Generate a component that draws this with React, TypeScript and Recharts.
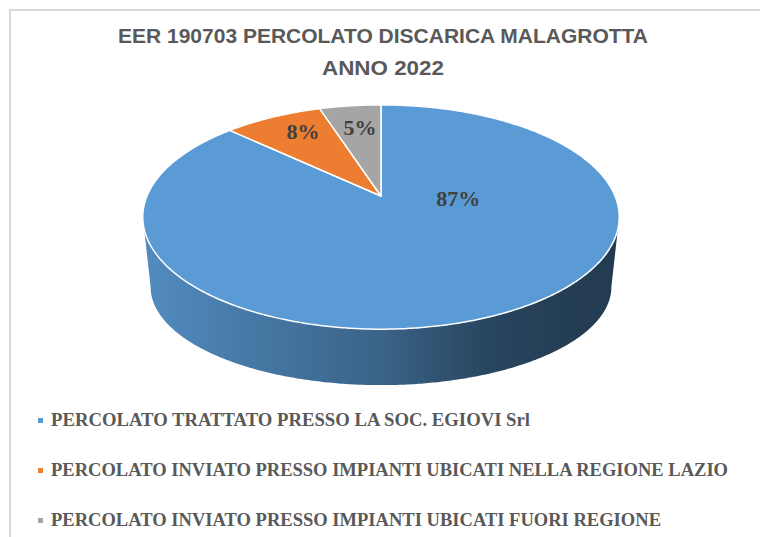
import { PieChart, Pie, Cell, Legend } from "recharts"

// dati
const SLICE_NAMES = [
  "PERCOLATO TRATTATO PRESSO LA SOC. EGIOVI Srl",
  "PERCOLATO INVIATO PRESSO IMPIANTI UBICATI NELLA REGIONE LAZIO",
  "PERCOLATO INVIATO PRESSO IMPIANTI UBICATI FUORI REGIONE",
]
const SLICE_VALUES = [87, 8, 5]
const SLICE_COLORS = ["#5b9bd5", "#ed7d31", "#a5a5a5"]

const TITLE_LINES = ["EER 190703 PERCOLATO DISCARICA MALAGROTTA", "ANNO 2022"]

const chartData = SLICE_NAMES.map((name, i) => ({ name, value: SLICE_VALUES[i] }))

// 3D look: perspective ellipse
const TILT = 0.4624
const PERSP = 0.1875
const SIDE_SX = 0.967
const SIDE_SY = 0.875
const SIDE_DROP = 72.6

// label placement tweaks (Excel "best fit" is not on the mid angle)
const LABEL_TUNE = [
  { angle: -4, kx: 0.33, ky: 0.33 },
  { angle: null, kx: 0.69, ky: 0.8 },
  { angle: null, kx: 0.64, ky: 0.73 },
]
const LEGEND_WIDTHS = [479, 677, 610]

const RAD = Math.PI / 180

function proj(cx: number, cy: number, r: number, deg: number, k = 1) {
  const a = deg * RAD
  const w = 1 + PERSP * k * Math.sin(a)
  return {
    x: cx + (r * k * Math.cos(a)) / w,
    y: cy - (r * TILT * k * Math.sin(a)) / w,
  }
}

function projBottom(cx: number, cy: number, r: number, deg: number) {
  const p = proj(cx, cy, r, deg)
  return { x: cx + SIDE_SX * (p.x - cx), y: cy + SIDE_DROP + SIDE_SY * (p.y - cy) }
}

function arcPoints(from: number, to: number, fn: (d: number) => { x: number; y: number }) {
  const n = Math.max(2, Math.ceil(Math.abs(to - from) / 0.5))
  const pts: string[] = []
  for (let i = 0; i <= n; i++) {
    const p = fn(from + ((to - from) * i) / n)
    pts.push(`${p.x.toFixed(2)},${p.y.toFixed(2)}`)
  }
  return pts
}

function shade(hex: string, f: number) {
  const n = parseInt(hex.slice(1), 16)
  const r = Math.round(((n >> 16) & 255) * f)
  const g = Math.round(((n >> 8) & 255) * f)
  const b = Math.round((n & 255) * f)
  return `rgb(${r},${g},${b})`
}

const TopSlice = (props: any) => {
  const { cx, cy, outerRadius, startAngle, endAngle, fill } = props
  const pts = arcPoints(startAngle, endAngle, (d) => proj(cx, cy, outerRadius, d))
  const d = `M${cx},${cy} L${pts.join(" L")} Z`
  return <path d={d} fill={fill} stroke="#ffffff" strokeWidth={1.5} strokeLinejoin="round" />
}

const SideSlice = (props: any) => {
  const { cx, cy, outerRadius, startAngle, endAngle, fill } = props
  const lo0 = Math.min(startAngle, endAngle)
  const hi0 = Math.max(startAngle, endAngle)
  const edge = Math.asin(PERSP) / RAD
  const frontLo = -180 + edge
  const frontHi = -edge
  const gid = `side-${String(fill).replace("#", "")}`
  const paths: string[] = []
  for (const shift of [-360, 0, 360]) {
    const lo = Math.max(lo0 + shift, frontLo)
    const hi = Math.min(hi0 + shift, frontHi)
    if (lo >= hi) continue
    const top = arcPoints(hi, lo, (d) => proj(cx, cy, outerRadius, d))
    const bottom = arcPoints(lo, hi, (d) => projBottom(cx, cy, outerRadius, d))
    paths.push(`M${top.join(" L")} L${bottom.join(" L")} Z`)
  }
  if (!paths.length) return <g />
  return (
    <g>
      <defs>
        <linearGradient id={gid} gradientUnits="userSpaceOnUse" x1={cx - outerRadius * 1.02} y1={0} x2={cx + outerRadius * 1.02} y2={0}>
          <stop offset="0%" stopColor={shade(fill, 0.9)} />
          <stop offset="22%" stopColor={shade(fill, 0.78)} />
          <stop offset="50%" stopColor={shade(fill, 0.64)} />
          <stop offset="72%" stopColor={shade(fill, 0.45)} />
          <stop offset="87%" stopColor={shade(fill, 0.4)} />
          <stop offset="100%" stopColor={shade(fill, 0.38)} />
        </linearGradient>
      </defs>
      {paths.map((d, i) => (
        <path key={i} d={d} fill={`url(#${gid})`} />
      ))}
    </g>
  )
}

const renderLabel = (props: any) => {
  const { cx, cy, outerRadius, midAngle, percent, index } = props
  const tune = LABEL_TUNE[index] ?? { angle: null, kx: 0.6, ky: 0.6 }
  const ang = tune.angle ?? midAngle
  const px = proj(cx, cy, outerRadius, ang, tune.kx)
  const py = proj(cx, cy, outerRadius, ang, tune.ky)
  return (
    <text
      x={px.x}
      y={py.y}
      textAnchor="middle"
      dominantBaseline="central"
      fill="#404040"
      fontFamily="'Liberation Serif', 'Times New Roman', serif"
      fontWeight="bold"
      fontSize={22}
    >
      {`${Math.round(percent * 100)}%`}
    </text>
  )
}

const renderLegend = (props: any) => {
  const seen = new Set<string>()
  const items = (props.payload || [])
    .filter((p: any) => {
      if (p.type === "none" || seen.has(p.value)) return false
      seen.add(p.value)
      return true
    })
    .sort((a: any, b: any) => SLICE_NAMES.indexOf(a.value) - SLICE_NAMES.indexOf(b.value))
  return (
    <svg width={760} height={137} style={{ display: "block", overflow: "visible" }}>
      {items.map((p: any, i: number) => (
        <g key={p.value}>
          <rect x={38} y={18 + i * 50} width={5} height={5} fill={p.color} />
          <text
            x={51}
            y={26 + i * 50}
            fill="#595959"
            fontFamily="'Liberation Serif', 'Times New Roman', serif"
            fontWeight="bold"
            fontSize={18}
            textLength={LEGEND_WIDTHS[SLICE_NAMES.indexOf(p.value)]}
            lengthAdjust="spacingAndGlyphs"
          >
            {p.value}
          </text>
        </g>
      ))}
    </svg>
  )
}

export default function App() {
  return (
    <div style={{ position: "absolute", left: 0, top: 0, width: 760, height: 537, background: "#fff", overflow: "hidden" }}>
      {/* chart frame */}
      <div
        style={{
          position: "absolute",
          left: 9,
          top: 9,
          width: 760,
          height: 540,
          borderTop: "2px solid #d9d9d9",
          borderLeft: "2px solid #d9d9d9",
        }}
      />
      <PieChart width={760} height={537} style={{ position: "absolute", left: 0, top: 0 }}>
        <Pie
          data={chartData}
          dataKey="value"
          nameKey="name"
          cx={376}
          cy={191}
          outerRadius={234}
          startAngle={90}
          endAngle={-270}
          shape={SideSlice}
          legendType="none"
          isAnimationActive={false}
        >
          {chartData.map((_, i) => (
            <Cell key={i} fill={SLICE_COLORS[i]} />
          ))}
        </Pie>
        <Pie
          data={chartData}
          dataKey="value"
          nameKey="name"
          cx={376}
          cy={191}
          outerRadius={234}
          startAngle={90}
          endAngle={-270}
          shape={TopSlice}
          label={renderLabel}
          labelLine={false}
          legendType="square"
          isAnimationActive={false}
        >
          {chartData.map((_, i) => (
            <Cell key={i} fill={SLICE_COLORS[i]} />
          ))}
        </Pie>
        <Legend
          content={renderLegend}
          wrapperStyle={{ position: "absolute", left: 0, top: 400, width: 760, height: 137 }}
        />
      </PieChart>
      <svg width={760} height={100} style={{ position: "absolute", left: 0, top: 0, pointerEvents: "none" }}>
        <text
          x={118}
          y={43}
          fill="#595959"
          fontFamily="'Liberation Sans', Arial, sans-serif"
          fontWeight="bold"
          fontSize={21}
          textLength={530}
          lengthAdjust="spacingAndGlyphs"
        >
          {TITLE_LINES[0]}
        </text>
        <text
          x={322}
          y={75}
          fill="#595959"
          fontFamily="'Liberation Sans', Arial, sans-serif"
          fontWeight="bold"
          fontSize={21}
          textLength={122}
          lengthAdjust="spacingAndGlyphs"
        >
          {TITLE_LINES[1]}
        </text>
      </svg>
    </div>
  )
}
